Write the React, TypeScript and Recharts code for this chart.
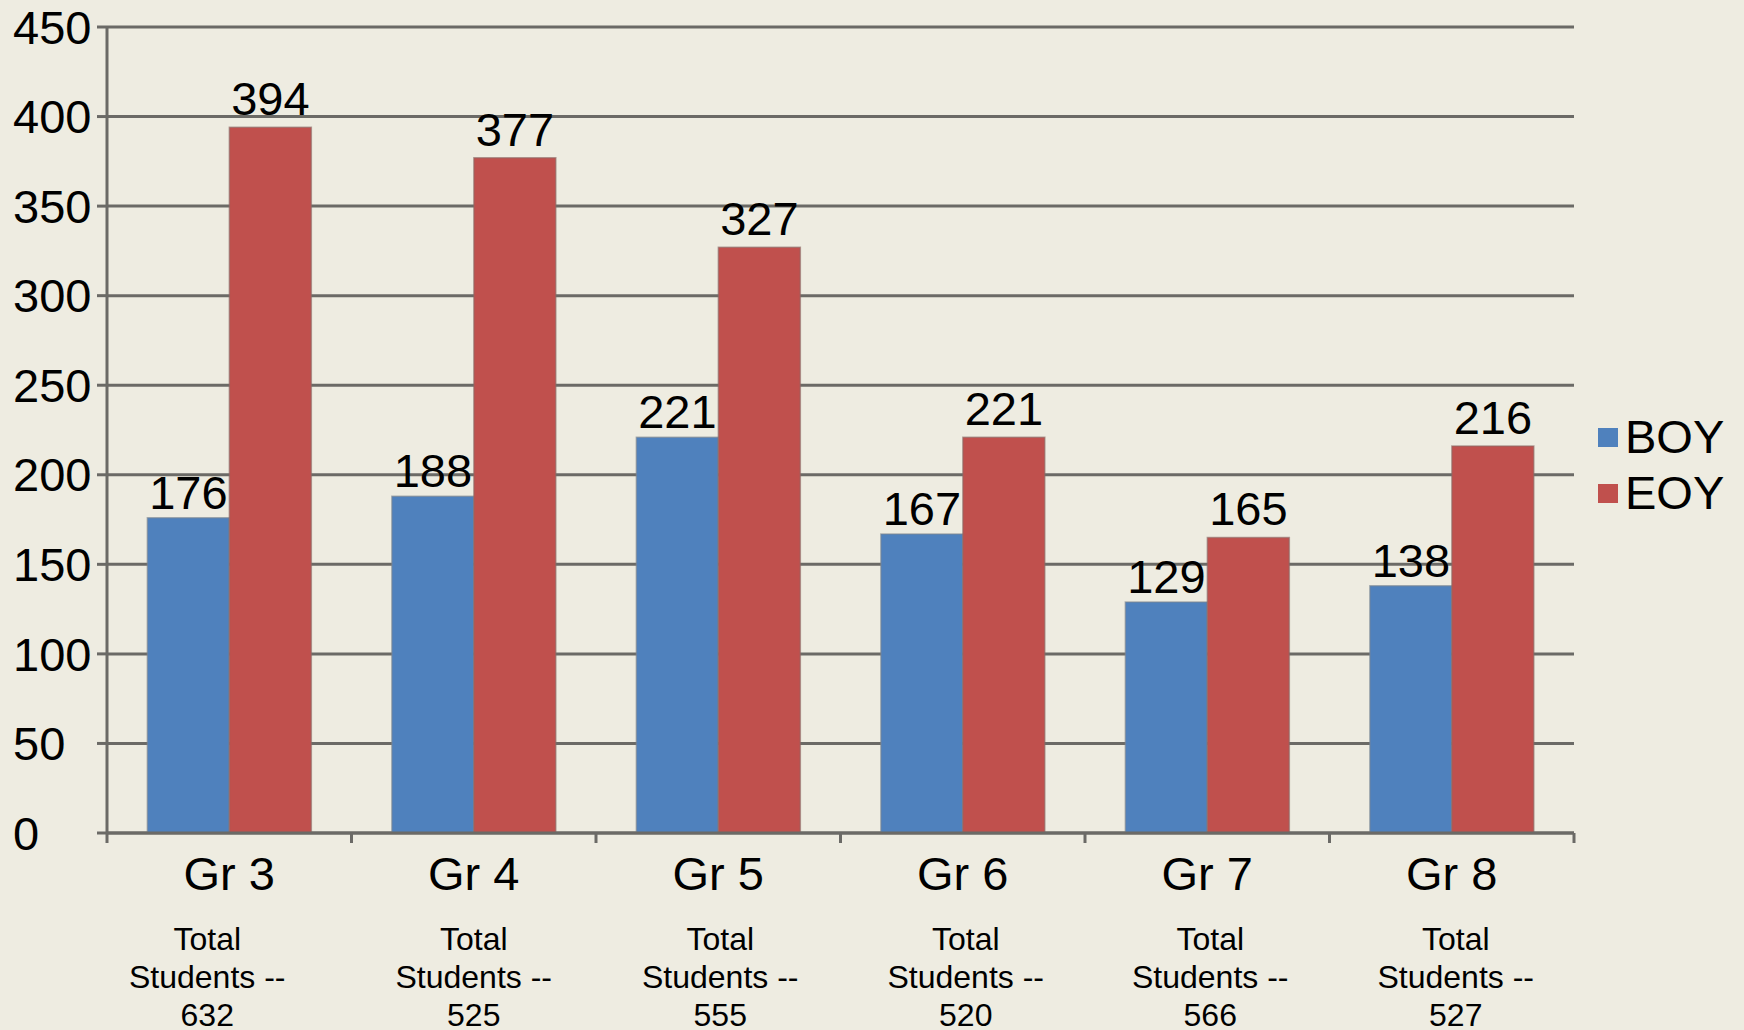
import { Bar, BarChart, CartesianGrid, LabelList, Legend, XAxis, YAxis } from "recharts";

const grades = ["Gr 3", "Gr 4", "Gr 5", "Gr 6", "Gr 7", "Gr 8"];
const boy = [176, 188, 221, 167, 129, 138];
const eoy = [394, 377, 327, 221, 165, 216];
const totals = [632, 525, 555, 520, 566, 527];
const yTicks = [0, 50, 100, 150, 200, 250, 300, 350, 400, 450];

const BLUE = "#4F81BD";
const RED = "#C0504D";
const BG = "#EEECE1";
const GRID = "#6b6a66";
const FONT = "'Liberation Sans', Arial, sans-serif";

const W = 1744;
const H = 1030;
const PLOT_LEFT = 107;
const PLOT_RIGHT = 1574;
const BAND = (PLOT_RIGHT - PLOT_LEFT) / grades.length;
// the first "Total Students" box sits a bit left of its column
const totalShift = [-22, 0, 2, 3, 3, 4];

const data = grades.map((g, i) => ({ grade: g, BOY: boy[i], EOY: eoy[i], total: totals[i] }));

function ValueTick(props: any) {
  const { y, payload } = props;
  // labels in the original are left aligned against the image edge
  return (
    <text x={13} y={y} dy="0.355em" textAnchor="start" fontSize={47} fill="#000" fontFamily={FONT}>
      {payload.value}
    </text>
  );
}

function GradeTick(props: any) {
  const { x, y, index, payload } = props;
  const axisY = y - 10;
  const tx = x + (totalShift[index] ?? 0);
  const half = BAND / 2;
  return (
    <g>
      <line x1={x - half} x2={x - half} y1={axisY} y2={axisY + 10} stroke={GRID} strokeWidth={3} />
      {index === grades.length - 1 && (
        <line x1={x + half} x2={x + half} y1={axisY} y2={axisY + 10} stroke={GRID} strokeWidth={3} />
      )}
      <text x={x} y={axisY + 57} textAnchor="middle" fontSize={47} fill="#000" fontFamily={FONT}>
        {payload.value}
      </text>
      <text textAnchor="middle" fontSize={32} fill="#000" fontFamily={FONT}>
        <tspan x={tx} y={axisY + 117}>Total</tspan>
        <tspan x={tx} y={axisY + 155}>Students --</tspan>
        <tspan x={tx} y={axisY + 193}>{totals[index]}</tspan>
      </text>
    </g>
  );
}

function LegendBox() {
  const items = [
    { name: "BOY", color: BLUE },
    { name: "EOY", color: RED },
  ];
  return (
    <div style={{ fontFamily: FONT, fontSize: 47, color: "#000" }}>
      {items.map((it) => (
        <div key={it.name} style={{ display: "flex", alignItems: "center", height: 56, lineHeight: "56px" }}>
          <span style={{ display: "inline-block", width: 20, height: 19, background: it.color, marginRight: 7 }} />
          <span>{it.name}</span>
        </div>
      ))}
    </div>
  );
}

export default function App() {
  return (
    <div style={{ position: "absolute", left: 0, top: 0, width: W, height: H, background: BG }}>
      <BarChart
        width={W}
        height={H}
        data={data}
        margin={{ top: 27, right: W - PLOT_RIGHT, left: 0, bottom: 0 }}
        barCategoryGap="16.5%"
        barGap={0}
      >
        <CartesianGrid vertical={false} stroke={GRID} strokeWidth={3} />
        <YAxis
          width={PLOT_LEFT}
          domain={[0, 450]}
          ticks={yTicks}
          interval={0}
          tickSize={10}
          tickMargin={5}
          axisLine={{ stroke: GRID, strokeWidth: 3 }}
          tickLine={{ stroke: GRID, strokeWidth: 3 }}
          tick={<ValueTick />}
        />
        <XAxis
          dataKey="grade"
          height={H - 27 - 806}
          interval={0}
          tickSize={10}
          tickMargin={0}
          tickLine={false}
          axisLine={{ stroke: GRID, strokeWidth: 3 }}
          tick={<GradeTick />}
        />
        <Legend
          layout="vertical"
          align="center"
          verticalAlign="middle"
          wrapperStyle={{ left: 1598, top: 409, width: 146 }}
          content={() => <LegendBox />}
        />
        <Bar dataKey="BOY" fill={BLUE} stroke="#7d8590" strokeOpacity={0.6} strokeWidth={1.5} isAnimationActive={false}>
          <LabelList dataKey="BOY" position="top" offset={9} fontSize={47} fill="#000" fontFamily={FONT} />
        </Bar>
        <Bar dataKey="EOY" fill={RED} stroke="#8a6a68" strokeOpacity={0.6} strokeWidth={1.5} isAnimationActive={false}>
          <LabelList dataKey="EOY" position="top" offset={12} fontSize={47} fill="#000" fontFamily={FONT} />
        </Bar>
      </BarChart>
    </div>
  );
}
